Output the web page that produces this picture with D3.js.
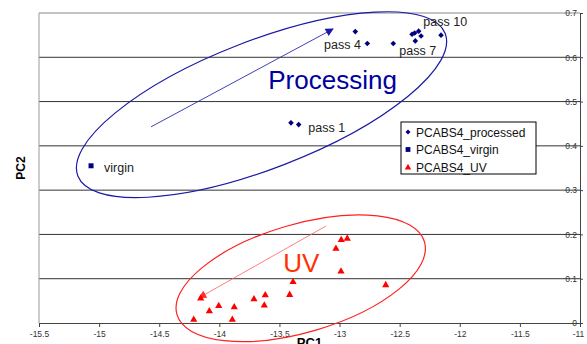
<!doctype html>
<html>
<head>
	<script src="https://d3js.org/d3.v7.min.js"></script>
	<style>
		body { margin: 0; background: #fff; }
		svg { display: block; font-family: "Liberation Sans", Arial, sans-serif; }
	</style>
</head>
<body>
	<div id="viz">
		<svg style="width:587px;height:344px;"></svg>
	</div>
	<script>
		// series values
		var processedX = [-12.869, -12.769, -12.553, -12.397, -12.375, -12.342, -12.322, -12.370, -12.156, -13.404, -13.340];
		var processedY = [0.658, 0.631, 0.631, 0.652, 0.655, 0.659, 0.648, 0.637, 0.650, 0.452, 0.448];
		var virginX = [-15.067];
		var virginY = [0.355];
		var uvX = [-14.213, -14.155, -14.083, -14.005, -13.892, -13.876, -13.712, -13.626, -13.618, -13.415, -13.387, -13.030, -12.986, -12.936, -12.988, -12.616];
		var uvY = [0.009, 0.057, 0.028, 0.040, 0.009, 0.037, 0.055, 0.041, 0.064, 0.065, 0.094, 0.169, 0.189, 0.192, 0.118, 0.087];

		var xTicks = [-15.5, -15, -14.5, -14, -13.5, -13, -12.5, -12, -11.5, -11];
		var yTicks = [0, 0.1, 0.2, 0.3, 0.4, 0.5, 0.6, 0.7];
		var seriesNames = ["PCABS4_processed", "PCABS4_virgin", "PCABS4_UV"];
		var pointLabels = ["pass 10", "pass 4", "pass 7", "pass 1", "virgin"];
		var pointLabelX = [-12.303, -13.129, -12.503, -13.260, -14.959];
		var pointLabelY = [0.670, 0.619, 0.606, 0.432, 0.340];

		dataViz();

		function dataViz() {
			var margin = {top: 13, right: 7, bottom: 21, left: 39};
			var width = 587, height = 344;
			var svg = d3.select("svg");

			var xScale = d3.scaleLinear().domain([-15.5, -11]).range([margin.left, width - margin.right]);
			var yScale = d3.scaleLinear().domain([0, 0.7]).range([height - margin.bottom, margin.top]);
			var x0 = xScale(-15.5), x1 = xScale(-11), y0 = yScale(0), y1 = yScale(0.7);

			var blue = "#000080", red = "#ff0000";

			// gridlines
			svg.append("g").selectAll("line")
				.data(yTicks.slice(1))
				.enter().append("line")
					.attr("x1", x0).attr("x2", x1)
					.attr("y1", d => yScale(d)).attr("y2", d => yScale(d))
					.attr("stroke", d => d == 0.7 ? "#888" : "#333")
					.attr("stroke-width", 1);
			// left border
			svg.append("line")
				.attr("x1", x0).attr("x2", x0).attr("y1", y1).attr("y2", y0)
				.attr("stroke", "#999");

			// axes (y axis sits on the right, x axis crosses at 0)
			var fmt = d => String(d);
			var xAxis = svg.append("g").attr("transform", "translate(0," + y0 + ")")
				.call(d3.axisBottom(xScale).tickValues(xTicks).tickSize(4).tickSizeOuter(0).tickFormat(fmt));
			var yAxis = svg.append("g").attr("transform", "translate(" + x1 + ",0)")
				.call(d3.axisRight(yScale).tickValues(yTicks).tickSize(3).tickSizeOuter(0).tickFormat(fmt));
			[xAxis, yAxis].forEach(function(ax) {
				ax.select(".domain").attr("stroke", "#444");
				ax.selectAll(".tick line").attr("stroke", "#444");
				ax.selectAll("text").attr("font-size", 8.5).attr("fill", "#333").attr("font-family", "Liberation Sans, Arial, sans-serif");
			});
			xAxis.selectAll("text").attr("y", 8);
			xAxis.selectAll(".tick").filter(d => d == -11).select("text").attr("dx", -2);
			yAxis.selectAll("text").attr("x", -3).attr("text-anchor", "end");

			// axis titles
			svg.append("text").attr("x", (x0 + x1) / 2).attr("y", 347)
				.attr("text-anchor", "middle").attr("font-weight", "bold").attr("font-size", 13).text("PC1");
			svg.append("text").attr("transform", "translate(25," + (y0 + y1) / 2 + ") rotate(-90)")
				.attr("text-anchor", "middle").attr("font-weight", "bold").attr("font-size", 12).text("PC2");

			// ellipses: centre in data units, radii in px, angle in degrees
			var ellipses = [
				{cx: -13.649, cy: 0.493, rx: 197, ry: 64, angle: -21.2, color: "#1a1aa6"},
				{cx: -13.323, cy: 0.101, rx: 129, ry: 54, angle: -16.4, color: "#ff2020"}
			];
			svg.append("g").selectAll("ellipse")
				.data(ellipses)
				.enter().append("ellipse")
					.attr("transform", d => "translate(" + xScale(d.cx) + "," + yScale(d.cy) + ") rotate(" + d.angle + ")")
					.attr("rx", d => d.rx).attr("ry", d => d.ry)
					.attr("fill", "none").attr("stroke", d => d.color).attr("stroke-width", 1.2);

			// arrows
			var defs = svg.append("defs");
			[["arrBlue", "#1a1aa6"], ["arrRed", "#ff3030"]].forEach(function(a) {
				defs.append("marker").attr("id", a[0])
					.attr("viewBox", "0 0 10 10").attr("refX", 9).attr("refY", 5)
					.attr("markerWidth", 9).attr("markerHeight", 8).attr("markerUnits", "userSpaceOnUse")
					.attr("orient", "auto")
					.append("path").attr("d", "M0,0L10,5L0,10Z").attr("fill", a[1]);
			});
			var arrows = [
				{x1: -14.568, y1: 0.443, x2: -13.054, y2: 0.664, color: "#2a2ab0", marker: "arrBlue", w: 0.9},
				{x1: -13.113, y1: 0.219, x2: -14.169, y2: 0.057, color: "#ff7070", marker: "arrRed", w: 0.9}
			];
			svg.append("g").selectAll("line")
				.data(arrows)
				.enter().append("line")
					.attr("x1", d => xScale(d.x1)).attr("y1", d => yScale(d.y1))
					.attr("x2", d => xScale(d.x2)).attr("y2", d => yScale(d.y2))
					.attr("stroke", d => d.color).attr("stroke-width", d => d.w)
					.attr("marker-end", d => "url(#" + d.marker + ")");

			// big group labels
			svg.append("text").attr("x", xScale(-13.593)).attr("y", yScale(0.529))
				.attr("font-size", 26).attr("fill", "#0000a0").text("Processing");
			svg.append("text").attr("x", xScale(-13.468)).attr("y", yScale(0.115))
				.attr("font-size", 26).attr("fill", "#ff3300").text("UV");

			// marker shapes
			function diamond(s) { return "M0," + (-s) + "L" + s + ",0L0," + s + "L" + (-s) + ",0Z"; }
			function square(s) { return "M" + (-s) + "," + (-s) + "h" + 2 * s + "v" + 2 * s + "h" + (-2 * s) + "Z"; }
			function triangle(s) { return "M0," + (-s) + "L" + s + "," + (s * 0.75) + "L" + (-s) + "," + (s * 0.75) + "Z"; }

			var processed = processedX.map((d, i) => ({x: d, y: processedY[i]}));
			var virgin = virginX.map((d, i) => ({x: d, y: virginY[i]}));
			var uv = uvX.map((d, i) => ({x: d, y: uvY[i]}));

			svg.append("g").selectAll("path").data(processed).enter().append("path")
				.attr("transform", d => "translate(" + xScale(d.x) + "," + yScale(d.y) + ")")
				.attr("d", diamond(2.8)).attr("fill", blue);
			svg.append("g").selectAll("path").data(virgin).enter().append("path")
				.attr("transform", d => "translate(" + xScale(d.x) + "," + yScale(d.y) + ")")
				.attr("d", square(2.5)).attr("fill", blue);
			svg.append("g").selectAll("path").data(uv).enter().append("path")
				.attr("transform", d => "translate(" + xScale(d.x) + "," + yScale(d.y) + ")")
				.attr("d", triangle(3.6)).attr("fill", red);

			// point labels
			svg.append("g").selectAll("text")
				.data(pointLabels).enter().append("text")
					.attr("x", (d, i) => xScale(pointLabelX[i]))
					.attr("y", (d, i) => yScale(pointLabelY[i]))
					.attr("font-size", 12.5).attr("fill", "#222").text(d => d);

			// legend
			var lg = svg.append("g").attr("transform", "translate(401,122)");
			lg.append("rect").attr("width", 135).attr("height", 52)
				.attr("fill", "#fff").attr("stroke", "#000").attr("stroke-width", 1);
			var shapes = [diamond(2.5), square(2.4), triangle(3.2)];
			var colors = [blue, blue, red];
			var items = lg.selectAll("g.item").data(seriesNames).enter().append("g")
				.attr("transform", (d, i) => "translate(7," + (10 + i * 17.5) + ")");
			items.append("path").attr("d", (d, i) => shapes[i]).attr("fill", (d, i) => colors[i]);
			items.append("text").attr("x", 8).attr("y", 4.5).attr("font-size", 12).attr("fill", "#111").text(d => d);
		}
	</script>
</body>
</html>
